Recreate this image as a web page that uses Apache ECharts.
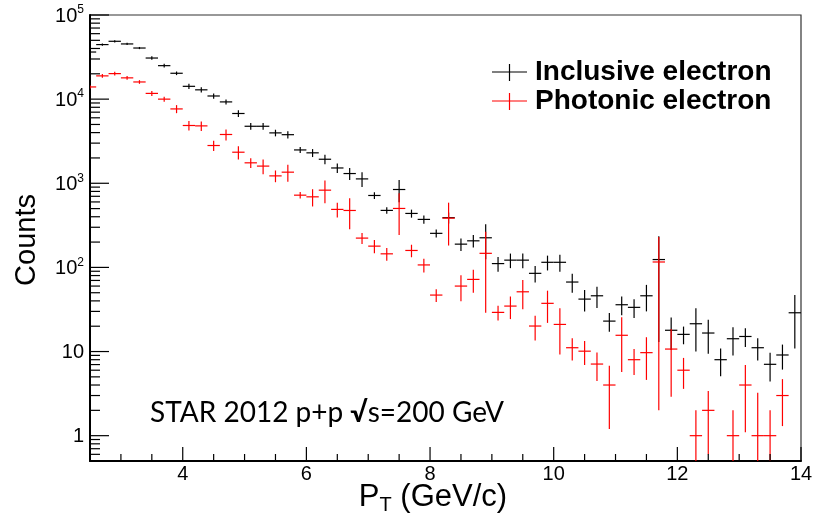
<!DOCTYPE html>
<html><head><meta charset="utf-8">
<script src="https://cdn.jsdelivr.net/npm/echarts@6/dist/echarts.min.js"></script>
<style>html,body{margin:0;padding:0;background:#fff}#c{width:813px;height:523px}</style>
</head><body><div id="c"></div>
<script>
// ---- data ----
const binCenters = [2.5,2.7,2.9,3.1,3.3,3.5,3.7,3.9,4.1,4.3,4.5,4.7,4.9,5.1,5.3,5.5,5.7,5.9,6.1,6.3,
  6.5,6.7,6.9,7.1,7.3,7.5,7.7,7.9,8.1,8.3,8.5,8.7,8.9,9.1,9.3,9.5,9.7,9.9,10.1,10.3,
  10.5,10.7,10.9,11.1,11.3,11.5,11.7,11.9,12.1,12.3,12.5,12.7,12.9,13.1,13.3,13.5,13.7,13.9];
const binHalfWidth = 0.1;
const inclusiveCounts = [36300,44500,48700,45300,40500,30800,25000,20300,14200,12900,
  10900,9270,6750,4760,4760,3970,3780,2490,2300,1930,
  1520,1305,1127,716,476,843,438,372,254,390,
  189,207,225,111,122,122,85,115,115,67,
  42,46,23,36,33.5,46,124,17.9,16,21.4,
  16.6,8,14.2,15.1,11.1,7.05,9.1,28.9];
const inclusiveErrors = [1100,1300,1450,1350,1200,1500,1250,1000,1000,900,
  760,650,610,430,430,360,380,200,250,250,
  200,210,225,65,43,250,48,41,28,58,
  32,35,100,22,24,24,19,23,26,17,
  12,13,5.8,9,8.4,16,111,7.5,3.8,11.4,
  7.2,2.9,5.2,3.8,3.3,2.65,3,18];
const photonicCounts = [13960,18900,20100,17900,16000,11700,10000,7650,4860,4810,
  2810,3800,2340,1750,1600,1224,1355,722,690,828,
  489,475,223,179,145,502,159,107,46.9,385,
  60,72,147,29.2,34.7,51.3,20.1,37.4,21,11.1,
  10.1,7.1,4.0,15.6,8.0,9.7,116,10.7,6.0,1,
  2,null,1,4,1,1,3,null];
const photonicErrors = [700,950,1000,900,800,820,700,840,630,625,
  390,570,420,230,320,195,310,65,160,250,
  98,190,33,32,25,260,27,20,8,203,
  20.5,22,118,5.8,10.4,19.5,6.6,15.5,11.8,3.3,
  3.2,2.65,2.8,9.9,2.75,5.1,114,7.8,2.4,1,
  1.4,null,1,2.9,2.24,1,1.7,null];

const xMajorTicks = [4,6,8,10,12,14];
const xTickLabels = ['4','6','8','10','12','14'];
const xMinorTicks = [3,3.5,4.5,5,5.5,6.5,7,7.5,8.5,9,9.5,10.5,11,11.5,12.5,13,13.5];
const yMajorTicks = [1,10,100,1000,10000,100000];
const yTickLabels = ['{n|1}','{n|10}','{n|10}{s|2}','{n|10}{s|3}','{n|10}{s|4}','{n|10}{s|5}'];
const yMinorTicks = [0.6,0.7,0.8,0.9,
  2,3,4,5,6,7,8,9,
  20,30,40,50,60,70,80,90,
  200,300,400,500,600,700,800,900,
  2000,3000,4000,5000,6000,7000,8000,9000,
  20000,30000,40000,50000,60000,70000,80000,90000];

const X_MIN = 2.5, X_MAX = 14, Y_MIN = 0.5, Y_MAX = 100000;
const FONT = "'Liberation Sans', Arial, Helvetica, sans-serif";

function rows(c, e) {
  const out = [];
  for (let i = 0; i < binCenters.length; i++) {
    if (c[i] == null) continue;
    out.push([binCenters[i], c[i], e[i]]);
  }
  return out;
}

function errRender(color, width) {
  return function (params, api) {
    const x = api.value(0), y = api.value(1), e = api.value(2);
    const lo = Math.max(y - e, Y_MIN * 0.5);
    const hi = y + e;
    const pL = api.coord([x - binHalfWidth, y]);
    const pR = api.coord([x + binHalfWidth, y]);
    const pT = api.coord([x, hi]);
    const pB = api.coord([x, lo]);
    const st = { stroke: color, lineWidth: width };
    return { type: 'group', children: [
      { type: 'line', shape: { x1: pL[0], y1: pL[1], x2: pR[0], y2: pR[1] }, style: st },
      { type: 'line', shape: { x1: pT[0], y1: pT[1], x2: pB[0], y2: pB[1] }, style: st }
    ]};
  };
}

function xTickRender(len) {
  return function (params, api) {
    const p = api.coord([api.value(0), Y_MIN]);
    return { type: 'line', shape: { x1: p[0], y1: p[1], x2: p[0], y2: p[1] - len },
      style: { stroke: '#000', lineWidth: 1.2 } };
  };
}
function yTickRender(len) {
  return function (params, api) {
    const p = api.coord([X_MIN, api.value(1)]);
    return { type: 'line', shape: { x1: p[0], y1: p[1], x2: p[0] + len, y2: p[1] },
      style: { stroke: '#000', lineWidth: 1.2 } };
  };
}

const chart = echarts.init(document.getElementById('c'), null, { renderer: 'canvas' });
chart.setOption({
  animation: false,
  backgroundColor: '#fff',
  grid: { left: 90, right: 12, top: 15, bottom: 62, show: true, borderColor: '#333', borderWidth: 1.2, backgroundColor: 'transparent' },
  xAxis: { type: 'value', min: X_MIN, max: X_MAX,
    axisLine: { show: true, onZero: false, lineStyle: { color: '#000', width: 2 } },
    axisTick: { show: false }, axisLabel: { show: false }, splitLine: { show: false } },
  yAxis: { type: 'log', logBase: 10, min: Y_MIN, max: Y_MAX,
    axisLine: { show: true, lineStyle: { color: '#000', width: 2 } },
    axisTick: { show: false }, axisLabel: { show: false }, splitLine: { show: false } },
  series: [
    { type: 'custom', name: 'Inclusive electron', clip: true, renderItem: errRender('#000', 1.2), data: rows(inclusiveCounts, inclusiveErrors), z: 3 },
    { type: 'custom', name: 'Photonic electron', clip: true, renderItem: errRender('#ff0000', 1.2), data: rows(photonicCounts, photonicErrors), z: 4 },
    { type: 'custom', renderItem: xTickRender(14), data: xMajorTicks.map(v => [v, Y_MIN]), z: 5 },
    { type: 'custom', renderItem: xTickRender(7), data: xMinorTicks.map(v => [v, Y_MIN]), z: 5 },
    { type: 'custom', renderItem: yTickRender(19), data: yMajorTicks.map(v => [X_MIN, v]), z: 5 },
    { type: 'custom', renderItem: yTickRender(10), data: yMinorTicks.map(v => [X_MIN, v]), z: 5 },
    { type: 'custom', z: 5,
      renderItem: function (params, api) {
        const i = params.dataIndex;
        const p = api.coord([api.value(0), Y_MIN]);
        return { type: 'text', x: p[0], y: p[1] + 13,
          style: { text: xTickLabels[i], font: '20px ' + FONT, fill: '#000', align: 'center', verticalAlign: 'middle' } };
      },
      data: xMajorTicks.map(v => [v, Y_MIN]) },
    { type: 'custom', z: 5,
      renderItem: function (params, api) {
        const i = params.dataIndex;
        const p = api.coord([X_MIN, api.value(1)]);
        return { type: 'text', x: p[0] - 6, y: p[1],
          style: { text: yTickLabels[i], fill: '#000', align: 'right', verticalAlign: 'middle',
            rich: { n: { fontSize: 20, fontFamily: FONT, lineHeight: 22, verticalAlign: 'bottom' },
                    s: { fontSize: 12, fontFamily: FONT, lineHeight: 22, verticalAlign: 'top' } } } };
      },
      data: yMajorTicks.map(v => [X_MIN, v]) }
  ],
  graphic: [
    { type: 'text', x: 27, y: 240, rotation: Math.PI / 2,
      style: { text: 'Counts', font: '29px ' + FONT, fill: '#000', align: 'center', verticalAlign: 'middle' } },
    { type: 'text', x: 433, y: 497,
      style: { text: '{b|P}{t|T}{b| (GeV/c)}', align: 'center', verticalAlign: 'middle', fill: '#000',
        rich: { b: { fontSize: 31, fontFamily: FONT, lineHeight: 36, verticalAlign: 'middle' },
                t: { fontSize: 20, fontFamily: FONT, lineHeight: 36, verticalAlign: 'bottom' } } } },
    { type: 'line', shape: { x1: 492, y1: 72, x2: 527, y2: 72 }, style: { stroke: '#000', lineWidth: 1.2 } },
    { type: 'line', shape: { x1: 509.5, y1: 64, x2: 509.5, y2: 81 }, style: { stroke: '#000', lineWidth: 1.2 } },
    { type: 'text', x: 535, y: 72, style: { text: 'Inclusive electron', font: 'bold 28px ' + FONT, fill: '#000', verticalAlign: 'middle' } },
    { type: 'line', shape: { x1: 492, y1: 101, x2: 527, y2: 101 }, style: { stroke: '#ff0000', lineWidth: 1.2 } },
    { type: 'line', shape: { x1: 509.5, y1: 93, x2: 509.5, y2: 110 }, style: { stroke: '#ff0000', lineWidth: 1.2 } },
    { type: 'text', x: 535, y: 101, style: { text: 'Photonic electron', font: 'bold 28px ' + FONT, fill: '#000', verticalAlign: 'middle' } },
    { type: 'text', x: 150, y: 413,
      style: { text: '{a|STAR 2012 p+p }{r|√}{a|s=200 GeV}', verticalAlign: 'middle', fill: '#000',
        rich: { a: { fontSize: 28, fontFamily: 'Lato, sans-serif' }, r: { fontSize: 28, fontFamily: 'Lato, sans-serif', fontWeight: 'bold' } } } }
  ]
});
</script></body></html>
